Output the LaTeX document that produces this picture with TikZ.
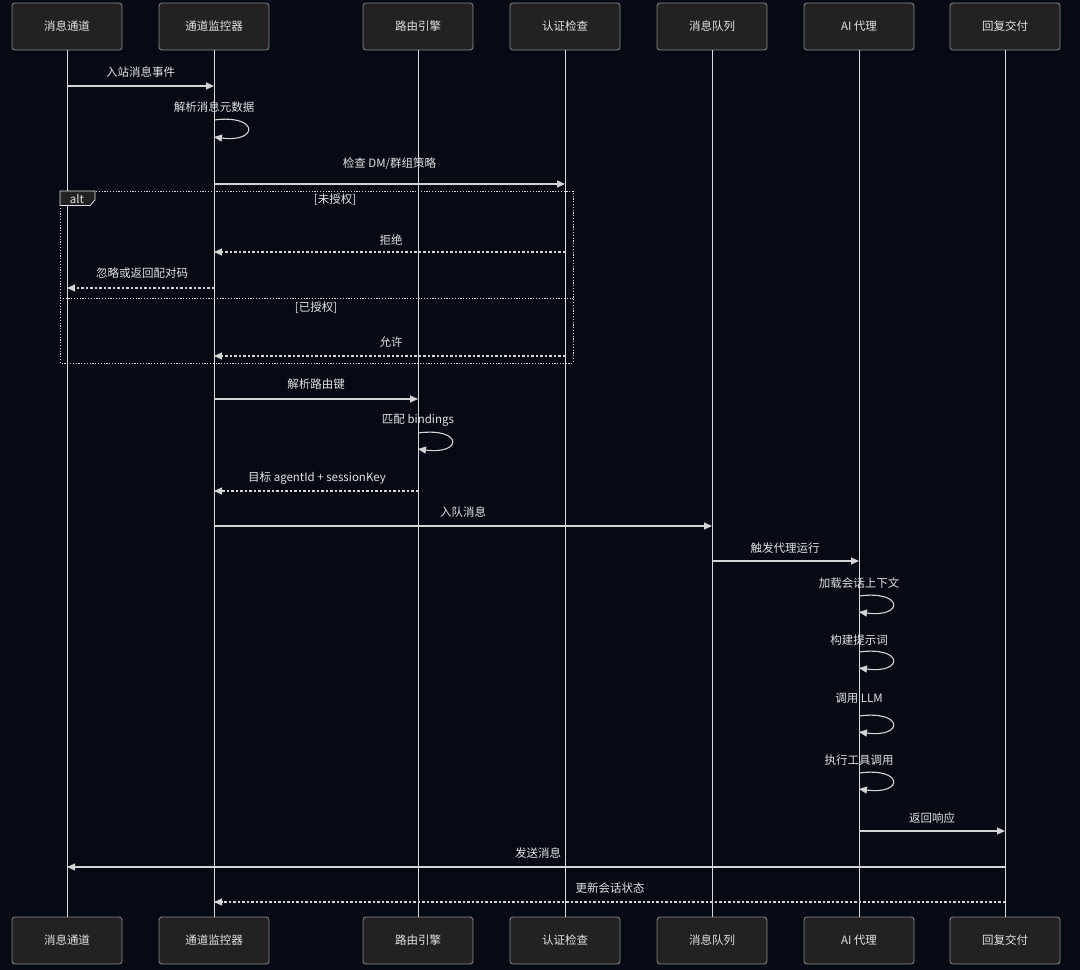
\documentclass[tikz,border=0pt]{standalone}
\usepackage{fontspec}
\setmainfont{Noto Sans CJK SC}
\usetikzlibrary{arrows.meta}
\definecolor{bg}{HTML}{050A14}
\definecolor{boxfill}{HTML}{222222}
\definecolor{boxline}{HTML}{8A8A8A}
\definecolor{ln}{HTML}{D4D4D4}
\definecolor{txt}{HTML}{E2E2E2}
\tikzset{
  actor/.style={draw=boxline, fill=boxfill, rounded corners=3pt, minimum width=110pt, minimum height=47pt, inner sep=0pt, text=txt, font=\fontsize{11.5}{14}\selectfont, line width=0.8pt},
  life/.style={draw=ln!85, line width=1pt},
  msg/.style={draw=ln, line width=1.1pt, -{Triangle[length=8pt,width=7pt]}},
  rep/.style={msg, dash pattern=on 2.5pt off 2pt},
  lbl/.style={text=txt, font=\fontsize{11.5}{14}\selectfont, inner sep=0pt},
  altbox/.style={draw=ln!80, line width=1pt, dash pattern=on 1.2pt off 1.6pt},
}
\begin{document}
\begin{tikzpicture}[x=1pt,y=-1pt]
\fill[bg] (0,0) rectangle (1080,970);
\useasboundingbox (0,0) rectangle (1080,970);
% actors
\foreach \i/\x/\t in {1/67/消息通道, 2/214/通道监控器, 3/418/路由引擎, 4/565/认证检查, 5/712/消息队列, 6/859/AI 代理, 7/1005/回复交付}{
  \node[actor] (top\i) at (\x,26.5) {\t};
  \node[actor] (bot\i) at (\x,940.5) {\t};
  \draw[life] (top\i.south) -- (bot\i.north);
  \coordinate (L\i) at (\x,0);
}
% alt frame
\draw[altbox] (60,191) rectangle (573,363);
\draw[altbox] (60,298) -- (573,298);
\filldraw[draw=ln!70, fill=boxfill, line width=0.8pt] (60,191) -- (95,191) -- (95,200) -- (90,205.5) -- (60,205.5) -- cycle;
\node[lbl] (alttag) at (77,199) {alt};
\node[lbl] (g1) at (335,200) {[未授权]};
\node[lbl] (g2) at (316,308) {[已授权]};
% messages
\draw[msg] (L1 |- 0,86) -- (L2 |- 0,86);
\node[lbl] (t1) at (140.5,72) {入站消息事件};
\node[lbl] (t2) at (214,107) {解析消息元数据};
\draw[msg] (L2 |- 0,120) .. controls +(45,-6) and +(45,6) .. (L2 |- 0,137);
\draw[msg] (L2 |- 0,184) -- (L4 |- 0,184);
\node[lbl] (t3) at (389.5,164) {检查 DM/群组策略};
\draw[rep] (L4 |- 0,252) -- (L2 |- 0,252);
\node[lbl] (t4) at (391,240) {拒绝};
\draw[rep] (L2 |- 0,288) -- (L1 |- 0,288);
\node[lbl] (t5) at (142,273) {忽略或返回配对码};
\draw[rep] (L4 |- 0,356) -- (L2 |- 0,356);
\node[lbl] (t6) at (391,342) {允许};
\draw[msg] (L2 |- 0,399) -- (L3 |- 0,399);
\node[lbl] (t7) at (316,384) {解析路由键};
\node[lbl] (t8) at (418,420) {匹配 bindings};
\draw[msg] (L3 |- 0,433) .. controls +(45,-6) and +(45,6) .. (L3 |- 0,449);
\draw[rep] (L3 |- 0,491) -- (L2 |- 0,491);
\node[lbl] (t9) at (317,478) {目标 agentId + sessionKey};
\draw[msg] (L2 |- 0,526) -- (L5 |- 0,526);
\node[lbl] (t10) at (463,512) {入队消息};
\draw[msg] (L5 |- 0,561) -- (L6 |- 0,561);
\node[lbl] (t11) at (785,548) {触发代理运行};
\node[lbl] (t12) at (859,583) {加载会话上下文};
\draw[msg] (L6 |- 0,596) .. controls +(45,-6) and +(45,6) .. (L6 |- 0,612);
\node[lbl] (t13) at (859,640) {构建提示词};
\draw[msg] (L6 |- 0,652) .. controls +(45,-6) and +(45,6) .. (L6 |- 0,668);
\node[lbl] (t14) at (859,698) {调用 LLM};
\draw[msg] (L6 |- 0,716) .. controls +(45,-6) and +(45,6) .. (L6 |- 0,732);
\node[lbl] (t15) at (859,760) {执行工具调用};
\draw[msg] (L6 |- 0,773) .. controls +(45,-6) and +(45,6) .. (L6 |- 0,789);
\draw[msg] (L6 |- 0,831) -- (L7 |- 0,831);
\node[lbl] (t16) at (932,818) {返回响应};
\draw[msg] (L7 |- 0,867) -- (L1 |- 0,867);
\node[lbl] (t17) at (538,853) {发送消息};
\draw[rep] (L7 |- 0,902) -- (L2 |- 0,902);
\node[lbl] (t18) at (610,888) {更新会话状态};
\end{tikzpicture}
\end{document}
